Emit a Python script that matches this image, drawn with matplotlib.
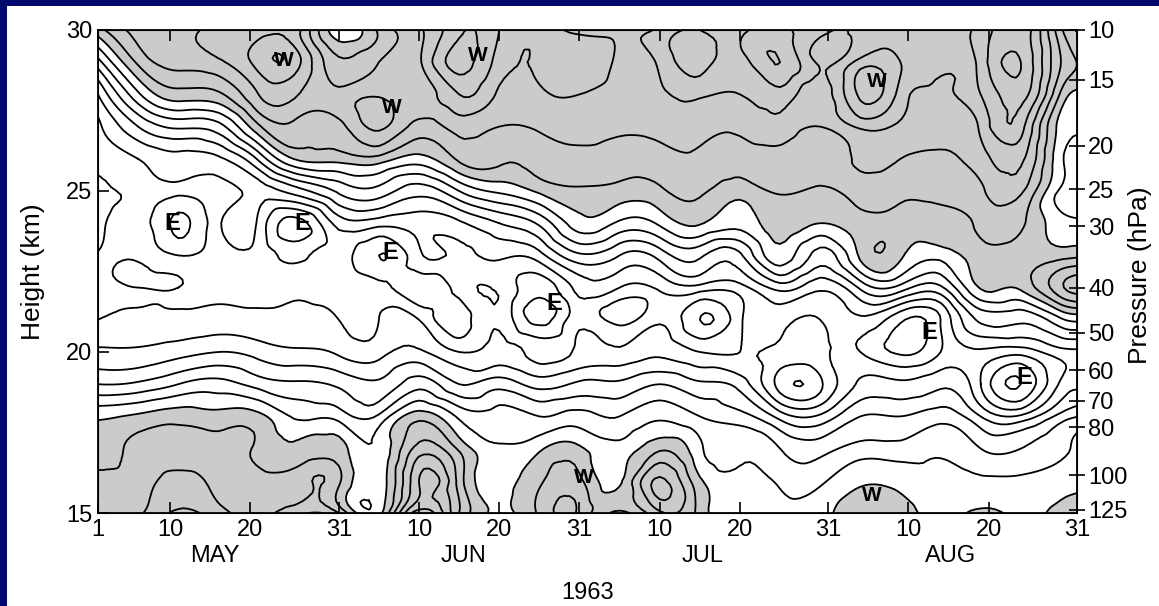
import numpy as np
import matplotlib
matplotlib.use('Agg')
import matplotlib.pyplot as plt
import matplotlib.tri as mtri

plt.rcParams['font.family'] = ['Liberation Sans', 'DejaVu Sans']

# time axis: days since 1 May 1963, height in km
days = [0, 5, 10, 15, 20, 25, 30, 35, 40, 45, 50, 55, 60, 65, 70, 75, 80, 85, 90, 95, 100, 105, 110, 115, 120, 123]
heights = [30, 29, 28, 27, 26, 25, 24, 23, 22, 21, 20, 19, 18, 17, 16, 15]

# zonal wind (m/s), one row per height (30 km first), one value per day column
wind = [
    [3, 12, 14, 16, 18, 16, -3, 6, 14, 24, 20, 16, 14, 14, 16, 20, 18, 22, 16, 16, 18, 16, 22, 28, 6, -2],
    [-12, 6, 12, 14, 22, 21, 6, 10, 14, 27, 18, 16, 18, 14, 16, 22, 18, 25, 14, 22, 20, 16, 22, 30, 10, 3],
    [-25, -6, 3, 4, 15, 15, 12, 14, 12, 20, 14, 14, 15, 13, 14, 16, 15, 18, 12, 26, 18, 14, 20, 27, 4, -1],
    [-31, -20, -14, -12, 4, 8, 8, 16, 8, 12, 10, 11, 12, 11, 12, 12, 11, 13, 10, 16, 14, 12, 16, 22, -2, -4],
    [-33, -30, -27, -26, -14, 1, 2, 3, -2, 6, 6, 7, 9, 8, 8, 9, 7, 9, 7, 11, 10, 9, 13, 16, -4, -6],
    [-38, -33, -33, -32, -28, -22, -14, -12, -18, -10, -4, 1, 4, 3, 4, 6, 2, 6, 4, 7, 6, 6, 9, 11, -6, -6],
    [-38, -32, -41, -31, -31, -42, -28, -28, -28, -26, -20, -14, -2, -6, -4, 0.5, -3, 3, 0, 3, 3, 3, 6, 6, -3, -4],
    [-34, -31, -35, -32, -32, -36, -33, -40, -31, -31, -29, -27, -16, -20, -18, -14, -16, -2, -12, 1, 1, -3, 3, 3, 3, 4],
    [-31, -30, -30, -31, -31, -31, -31, -33, -38, -33, -31, -38, -28, -30, -29, -27, -27, -18, -24, -14, -12, -16, 0.5, 1, 14, 18],
    [-30, -29, -29, -28, -29, -29, -30, -30, -30, -38, -31, -42, -32, -37, -31, -40, -31, -28, -30, -26, -34, -30, -14, -14, -6, -4],
    [-24, -24, -22, -20, -22, -24, -26, -27, -24, -30, -28, -32, -29, -29, -26, -30, -30, -31, -31, -30, -36, -30, -26, -28, -22, -22],
    [-15, -14, -10, -8, -12, -14, -16, -19, -12, -20, -17, -22, -19, -19, -15, -19, -22, -37, -36, -24, -24, -21, -30, -40, -24, -22],
    [-1, 1, 3, 2, 1.5, -6, -7, -9, 3, -6, -8, -10, -8, -10, -6, -10, -13, -22, -24, -15, -15, -12, -20, -24, -13, -10],
    [3, 6, 7, 6, 4, 1, 2, -4, 12, 4, -4, -1, 1, -3, 4, -4, -6, -10, -12, -8, -8, -6, -10, -10, -6, -4],
    [6, 7, 12, 8, 6, 8, 6, -3, 20, 8, -2, 4, 6, -1, 16, 1, -3, -6, -6, -1, -2, -4, -4, -4, -2, -1],
    [7, 9, 16, 12, 8, 14, 10, -2, 28, 10, -1, 6, 9, -1, 9, 3, -2, -3, -2, 4, 3, -2, 1, -1, 1, 1],
]

# date ticks
date_ticks = [0, 9, 19, 30, 40, 50, 60, 70, 80, 91, 101, 111, 122]
date_labels = ['1', '10', '20', '31', '10', '20', '31', '10', '20', '31', '10', '20', '31']
months = ['MAY', 'JUN', 'JUL', 'AUG']
month_pos = [14.6, 45.5, 75.3, 106.3]

# pressure scale on the right
p_heights = [30, 28.45, 26.4, 25.06, 23.9, 22.0, 20.6, 19.44, 18.48, 17.67, 16.18, 15.1]
p_labels = ['10', '15', '20', '25', '30', '40', '50', '60', '70', '80', '100', '125']

# E / W labels
e_pos = [(9.2, 24.0), (25.4, 24.0), (36.4, 23.1), (56.9, 21.5), (103.6, 20.6), (115.4, 19.2)]
w_pos = [(23.2, 29.05), (36.6, 27.6), (47.3, 29.2), (97.0, 28.4), (60.6, 16.1), (96.4, 15.55)]

X, Y = np.meshgrid(days, heights)
Z = np.array(wind, dtype=float)
triang = mtri.Triangulation(X.ravel(), Y.ravel())
refiner = mtri.UniformTriRefiner(triang)
tri_r, z_r = refiner.refine_field(Z.ravel(), subdiv=3)

W, H = 1159, 606
fig = plt.figure(figsize=(W / 100, H / 100), dpi=100, facecolor='#000a6e')
fig.add_artist(plt.Rectangle((7 / W, 0), 1, 1 - 6 / H, transform=fig.transFigure,
                             facecolor='white', edgecolor='none', zorder=0))

ax = fig.add_axes([98 / W, 1 - 513 / H, (1077 - 98) / W, (513 - 30) / H])
ax.tricontourf(tri_r, z_r, levels=[0, 200], colors=['#cbcbcb'])
ax.tricontour(tri_r, z_r, levels=np.arange(-45, 41, 5), colors='black',
              linewidths=1.3, linestyles='solid')
ax.set_xlim(0, 122)
ax.set_ylim(15, 30)

ax.set_xticks(date_ticks)
ax.set_xticklabels(date_labels, fontsize=17)
ax.set_yticks([15, 20, 25, 30])
ax.set_yticklabels(['15', '20', '25', '30'], fontsize=17)
ax.tick_params(axis='x', direction='in', length=8, width=1.2, top=True, pad=4)
ax.tick_params(axis='y', direction='in', length=8, width=1.2, pad=4)
for s in ax.spines.values():
    s.set_linewidth(1.3)

ax2 = ax.twinx()
ax2.set_ylim(15, 30)
ax2.set_yticks(p_heights)
ax2.set_yticklabels(p_labels, fontsize=17)
ax2.tick_params(axis='y', direction='inout', length=12, width=1.2, pad=2)

for x, y in e_pos:
    ax.text(x, y, 'E', fontsize=17, fontweight='bold', ha='center', va='center')
for x, y in w_pos:
    ax.text(x, y, 'W', fontsize=15, fontweight='bold', ha='center', va='center')

for m, x in zip(months, month_pos):
    ax.text(x, -0.09, m, transform=ax.get_xaxis_transform(), fontsize=17,
            ha='center', va='center')
fig.text(588 / W, 1 - 593 / H, '1963', fontsize=17, ha='center', va='center')
fig.text(33 / W, 1 - 272 / H, 'Height (km)', fontsize=19, rotation=90, ha='center', va='center')
fig.text(1140 / W, 1 - 275 / H, 'Pressure (hPa)', fontsize=19, rotation=90, ha='center', va='center')

fig.savefig('out.png', dpi=100, facecolor=fig.get_facecolor())
